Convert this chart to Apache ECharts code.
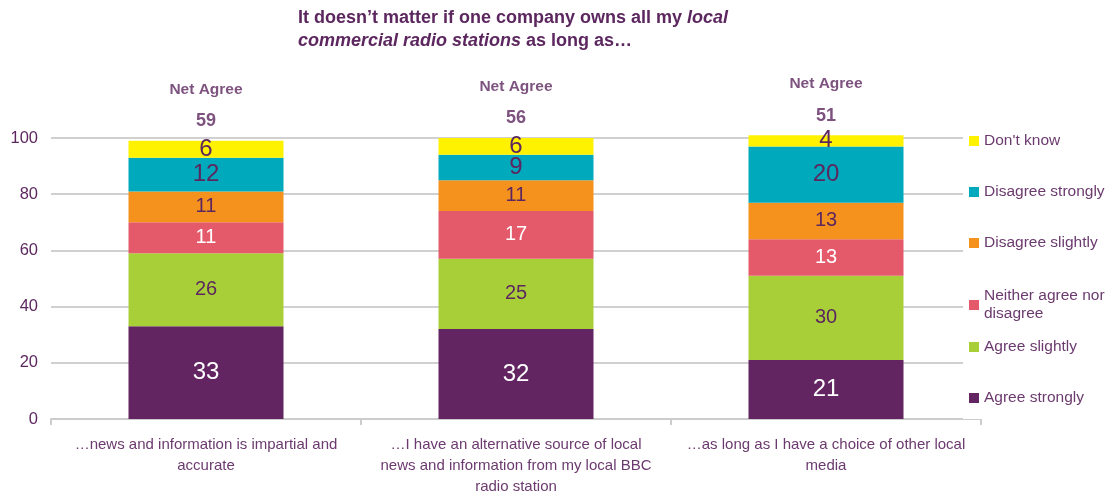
<!DOCTYPE html>
<html>
<head>
<meta charset="utf-8">
<script src="https://cdn.jsdelivr.net/npm/echarts@6/dist/echarts.min.js"></script>
<style>
  html, body { margin: 0; padding: 0; background: #fff; }
  #chart { width: 1107px; height: 497px; }
</style>
</head>
<body>
<div id="chart"></div>
<script>
// Statements about local commercial radio ownership
const categories = [
  '…news and information is impartial and\naccurate',
  '…I have an alternative source of local\nnews and information from my local BBC\nradio station',
  '…as long as I have a choice of other local\nmedia'
];

// Response shares (%), bottom to top of each stack
const agreeStrongly     = [33, 32, 21];
const agreeSlightly     = [26, 25, 30];
const neither           = [11, 17, 13];
const disagreeSlightly  = [11, 11, 13];
const disagreeStrongly  = [12, 9, 20];
const dontKnow          = [6, 6, 4];

// Net agree figures shown above each bar
const netAgree = [59, 56, 51];

const yTicks = [0, 20, 40, 60, 80, 100];

const PURPLE = '#5c275f';
const TEXT = '#6b3a6e';
const FONT = '"Liberation Sans", Arial, sans-serif';

const seriesDefs = [
  { name: 'Agree strongly', data: agreeStrongly, color: '#622562', label: '#ffffff', size: 24 },
  { name: 'Agree slightly', data: agreeSlightly, color: '#a9cf38', label: PURPLE, size: 20 },
  { name: 'Neither agree nor disagree', data: neither, color: '#e55a6a', label: '#ffffff', size: 20 },
  { name: 'Disagree slightly', data: disagreeSlightly, color: '#f5921e', label: PURPLE, size: 20 },
  { name: 'Disagree strongly', data: disagreeStrongly, color: '#00a9bc', label: PURPLE, size: 24 },
  { name: "Don't know", data: dontKnow, color: '#fff200', label: PURPLE, size: 24 }
];

const totals = categories.map((_, i) => seriesDefs.reduce((s, d) => s + d.data[i], 0));

const barSeries = seriesDefs.map(d => ({
  name: d.name,
  type: 'bar',
  stack: 'all',
  barWidth: '50%',
  clip: false,
  data: d.data,
  itemStyle: { color: d.color },
  label: {
    show: true,
    position: 'inside',
    color: d.label,
    fontSize: d.size,
    fontFamily: FONT
  },
  emphasis: { disabled: true }
}));

// Net agree labels sit just above the top of each stack
const netSeries = {
  name: 'Net Agree',
  type: 'scatter',
  symbolSize: 1,
  clip: false,
  itemStyle: { color: 'rgba(0,0,0,0)' },
  data: totals.map((t, i) => [i, t, netAgree[i]]),
  label: {
    show: true,
    position: 'top',
    distance: 8,
    formatter: p => '{t|Net Agree}\n{s|}\n{v|' + p.value[2] + '}',
    rich: {
      t: { fontSize: 15.5, fontWeight: 'bold', color: PURPLE, fontFamily: FONT, lineHeight: 22 },
      s: { fontSize: 1, lineHeight: 10 },
      v: { fontSize: 18, fontWeight: 'bold', color: PURPLE, fontFamily: FONT, lineHeight: 22 }
    }
  },
  z: 5
};

// Legend entries, top to bottom, with their vertical positions
const legendItems = [
  { name: "Don't know", top: 133 },
  { name: 'Disagree strongly', top: 184 },
  { name: 'Disagree slightly', top: 235 },
  { name: 'Neither agree nor disagree', top: 278 },
  { name: 'Agree slightly', top: 339 },
  { name: 'Agree strongly', top: 390 }
];

const legends = legendItems.map(it => ({
  show: true,
  left: 969,
  top: it.top,
  padding: 0,
  orient: 'vertical',
  icon: 'rect',
  itemWidth: 10,
  itemHeight: 10,
  selectedMode: false,
  data: [it.name],
  formatter: n => n === 'Neither agree nor disagree' ? 'Neither agree nor\ndisagree' : n,
  textStyle: it.name === 'Neither agree nor disagree'
    ? { color: TEXT, fontSize: 15.5, fontFamily: FONT, lineHeight: 18, padding: [18, 0, 0, 0] }
    : { color: TEXT, fontSize: 15.5, fontFamily: FONT, lineHeight: 16 }
}));

const chart = echarts.init(document.getElementById('chart'), null, { renderer: 'canvas' });

chart.setOption({
  animation: false,
  backgroundColor: '#ffffff',
  title: {
    left: 293,
    top: 2,
    text: "{b|It doesn’t matter if one company owns all my }{bi|local}\n{bi|commercial radio stations}{b| as long as…}",
    textStyle: {
      rich: {
        b: { fontSize: 18, fontWeight: 'bold', color: PURPLE, fontFamily: FONT, lineHeight: 23 },
        bi: { fontSize: 18, fontWeight: 'bold', fontStyle: 'italic', color: PURPLE, fontFamily: FONT, lineHeight: 23 }
      }
    }
  },
  legend: legends,
  grid: { left: 51, right: 126, top: 138, bottom: 73, containLabel: false },
  xAxis: {
    type: 'category',
    data: categories,
    boundaryGap: true,
    axisLine: { lineStyle: { color: '#cccccc', width: 2 } },
    axisTick: { show: true, length: 6, lineStyle: { color: '#cccccc', width: 2 } },
    axisLabel: {
      color: TEXT,
      fontSize: 15,
      fontFamily: FONT,
      lineHeight: 21,
      margin: 15,
      interval: 0
    }
  },
  yAxis: {
    type: 'value',
    min: yTicks[0],
    max: yTicks[yTicks.length - 1],
    interval: yTicks[1] - yTicks[0],
    axisLine: { show: false },
    axisTick: { show: false },
    axisLabel: { color: PURPLE, fontSize: 16.5, fontFamily: FONT, margin: 13 },
    splitLine: { lineStyle: { color: '#d0d0d0', width: 2 } }
  },
  graphic: [{
    type: 'rect',
    shape: { x: 963, y: 125, width: 20, height: 294 },
    style: { fill: '#ffffff' },
    z: 1
  }],
  series: [...barSeries, netSeries]
});
</script>
</body>
</html>
